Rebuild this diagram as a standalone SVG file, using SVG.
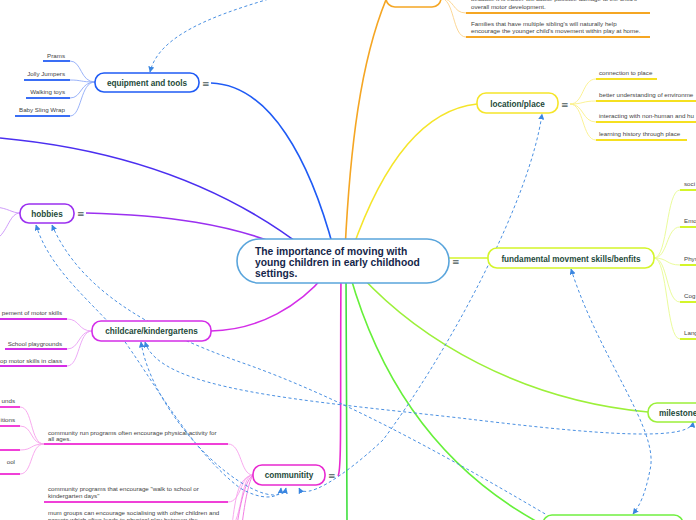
<svg xmlns="http://www.w3.org/2000/svg" width="696" height="520" viewBox="0 0 696 520">
<defs>
<marker id="ah" viewBox="0 0 10 10" refX="9" refY="5" markerWidth="6" markerHeight="6" markerUnits="userSpaceOnUse" orient="auto-start-reverse">
<path d="M0,0 L10,5 L0,10 z" fill="#3a86e0"/>
</marker>
<style>
.nd{fill:#fff;stroke-width:1.6}
.nt{font-family:"Liberation Sans",Arial,sans-serif;font-weight:bold;font-size:8.2px;fill:#1e4a3a;text-anchor:middle}
.ct{font-family:"Liberation Sans",Arial,sans-serif;font-size:6.2px;fill:#444}
.ce{text-anchor:end}
.ic{font-family:"DejaVu Sans",sans-serif;font-size:9px;fill:#4a5a5a}
.br{fill:none;stroke-width:1.6}
.sb{fill:none;stroke-width:0.9}
.ul{stroke-width:2}
.dl{fill:none;stroke:#4a90e2;stroke-width:1;stroke-dasharray:3 2.5}
</style>
</defs>
<rect width="696" height="520" fill="#fff"/>
<g id="connectors">
<path class="br" stroke="#f5a623" d="M345,250 C350,150 360,60 388,-5"/>
<path class="br" stroke="#1f5bf5" d="M211,83 C270,85 310,160 334,250"/>
<path class="br" stroke="#4b2ff0" d="M0,138 C130,150 230,190 307,250"/>
<path class="br" stroke="#9b30f0" d="M86,213 C170,215 230,225 280,245"/>
<path class="br" stroke="#d42ee8" d="M211,331 C260,330 300,305 325,275"/>
<path class="br" stroke="#e828d0" d="M338,476 C342,470 340,400 341,275"/>
<path class="br" stroke="#f5e52a" d="M352,250 C380,170 420,110 477,104"/>
<path class="br" stroke="#d4f52a" d="M440,258 L488,258"/>
<path class="br" stroke="#9cf03a" d="M360,275 C420,340 520,400 648,412"/>
<path class="br" stroke="#66f03a" d="M350,275 C380,380 440,470 543,525"/>
<path class="br" stroke="#3ee03e" d="M346,275 C347,350 346,450 347,522"/>
<!-- orange children -->
<path class="sb" stroke="#fcd38a" d="M440,-2 C455,-2 452,13 466,13"/>
<path class="sb" stroke="#fcd38a" d="M440,-2 C455,-2 452,37 466,37"/>
<!-- equipment children -->
<path class="sb" stroke="#8eaaf8" d="M95,82 C80,82 82,61 70,61"/>
<path class="sb" stroke="#8eaaf8" d="M95,82 C80,82 82,80 70,80"/>
<path class="sb" stroke="#8eaaf8" d="M95,82 C80,82 82,98 70,98"/>
<path class="sb" stroke="#8eaaf8" d="M95,82 C80,82 82,116 70,116"/>
<!-- hobbies children -->
<path class="sb" stroke="#c890f8" d="M20,213 C12,213 8,208 -5,207"/>
<path class="sb" stroke="#c890f8" d="M20,213 C10,213 8,230 -2,238"/>
<!-- childcare children -->
<path class="sb" stroke="#eaa0f5" d="M92,331 C78,331 80,319 67,319"/>
<path class="sb" stroke="#eaa0f5" d="M92,331 C78,331 80,349 67,349"/>
<path class="sb" stroke="#eaa0f5" d="M92,331 C78,331 80,366 67,366"/>
<!-- community children -->
<path class="sb" stroke="#f7a0ec" d="M253,475 C240,475 242,444 228,444"/>
<path class="sb" stroke="#f7a0ec" d="M253,475 C240,475 242,502 228,502"/>
<path class="sb" stroke="#f7a0ec" d="M253,475 C240,475 242,528 228,528"/>
<path class="sb" stroke="#f070e0" d="M253,475 C246,480 241,500 237,525"/>
<path class="sb" stroke="#f070e0" d="M253,475 C249,481 245,500 242,525"/>
<path class="sb" stroke="#f7a0ec" d="M253,475 C238,478 236,495 232,525"/>
<path class="sb" stroke="#f7a0ec" d="M44,444 C30,444 33,407 20,407"/>
<path class="sb" stroke="#f7a0ec" d="M44,444 C30,444 33,426 20,426"/>
<path class="sb" stroke="#f7a0ec" d="M44,444 C30,444 33,450 20,450"/>
<path class="sb" stroke="#f7a0ec" d="M44,444 C30,444 33,474 20,474"/>
<!-- location children -->
<path class="sb" stroke="#faf08a" d="M570,104 C584,104 582,79 596,79"/>
<path class="sb" stroke="#faf08a" d="M570,104 C584,104 582,101 596,101"/>
<path class="sb" stroke="#faf08a" d="M570,104 C584,104 582,122 596,122"/>
<path class="sb" stroke="#faf08a" d="M570,104 C584,104 582,140 596,140"/>
<!-- fundamental children -->
<path class="sb" stroke="#e8fa90" d="M654,258 C668,258 666,190 680,190"/>
<path class="sb" stroke="#e8fa90" d="M654,258 C668,258 666,227 680,227"/>
<path class="sb" stroke="#e8fa90" d="M654,258 C668,258 666,265 680,265"/>
<path class="sb" stroke="#e8fa90" d="M654,258 C668,258 666,302 680,302"/>
<path class="sb" stroke="#e8fa90" d="M654,258 C668,258 666,339 680,339"/>
<!-- dashed relationships -->
<path class="dl" marker-start="url(#ah)" marker-end="url(#ah)" d="M36,225 C50,270 90,300 120,335 C150,375 190,450 240,488 C260,500 280,500 281,488"/>
<path class="dl" marker-start="url(#ah)" d="M52,225 C80,290 150,330 240,362 C350,400 470,470 547,515"/>
<path class="dl" marker-start="url(#ah)" marker-end="url(#ah)" d="M141,342 C150,400 210,470 255,490 C270,497 284,497 286,488"/>
<path class="dl" marker-start="url(#ah)" marker-end="url(#ah)" d="M145,342 C160,390 300,400 460,418 C560,430 690,445 693,422"/>
<path class="dl" marker-start="url(#ah)" marker-end="url(#ah)" d="M299,488 C305,500 340,480 383,440 C450,350 530,200 542,114"/>
<path class="dl" marker-end="url(#ah)" d="M300,-10 C230,10 160,30 150,72"/>
<path class="dl" marker-start="url(#ah)" marker-end="url(#ah)" d="M571,269 C600,360 660,430 650,470 C645,495 640,505 633,514"/>
</g>
<g id="central">
<rect class="nd" x="237" y="239" width="212" height="44" rx="22" stroke="#5aa5dc" stroke-width="1.2"/>
<text font-family="Liberation Sans,Arial,sans-serif" font-weight="bold" font-size="10.3" fill="#15264a"><tspan x="255" y="254.5">The importance of moving with</tspan><tspan x="255" y="265.5">young children in early childhood</tspan><tspan x="255" y="276.5">settings.</tspan></text>
<text class="ic" x="452" y="265">≡</text>
</g>
<g id="orange-node">
<rect class="nd" x="386" y="-14" width="55" height="21" rx="9" stroke="#f5a623"/>
<line class="ul" x1="466" y1="13" x2="650" y2="13" stroke="#f5a623"/>
<line class="ul" x1="466" y1="37" x2="650" y2="37" stroke="#f5a623"/>
<text class="ct"><tspan x="471" y="1">because it is easier will cause possible damage to the child's</tspan><tspan x="471" y="8.5">overall motor development.</tspan></text>
<text class="ct"><tspan x="471" y="25.5">Families that have multiple sibling's will naturally help</tspan><tspan x="471" y="33">encourage the younger child's movement within play at home.</tspan></text>
</g>
<g id="equipment">
<rect class="nd" x="95" y="73" width="104" height="19" rx="9" stroke="#1f5bf5"/>
<text class="nt" x="147" y="85.5">equipment and tools</text>
<text class="ic" x="202" y="87">≡</text>
<line class="ul" x1="43" y1="61" x2="70" y2="61" stroke="#3a6ef5"/>
<line class="ul" x1="24" y1="80" x2="70" y2="80" stroke="#3a6ef5"/>
<line class="ul" x1="26" y1="98" x2="70" y2="98" stroke="#3a6ef5"/>
<line class="ul" x1="15" y1="116" x2="70" y2="116" stroke="#3a6ef5"/>
<text class="ct ce" x="65" y="58">Prams</text>
<text class="ct ce" x="65" y="76">Jolly Jumpers</text>
<text class="ct ce" x="65" y="94">Walking toys</text>
<text class="ct ce" x="65" y="112">Baby Sling Wrap</text>
</g>
<g id="hobbies">
<rect class="nd" x="20" y="204" width="54" height="19" rx="9" stroke="#9b30f0"/>
<text class="nt" x="47" y="216.5">hobbies</text>
<text class="ic" x="77" y="217">≡</text>
</g>
<g id="childcare">
<rect class="nd" x="92" y="321" width="119" height="20" rx="9" stroke="#d42ee8"/>
<text class="nt" x="151.5" y="334">childcare/kindergartens</text>
<line class="ul" x1="-2" y1="319" x2="67" y2="319" stroke="#d42ee8"/>
<line class="ul" x1="5" y1="349" x2="67" y2="349" stroke="#d42ee8"/>
<line class="ul" x1="-2" y1="366" x2="67" y2="366" stroke="#d42ee8"/>
<text class="ct ce" x="62" y="315">pement of motor skills</text>
<text class="ct ce" x="62" y="345.5">School playgrounds</text>
<text class="ct ce" x="62" y="363">op motor skills in class</text>
</g>
<g id="community">
<rect class="nd" x="253" y="465" width="72" height="20" rx="9" stroke="#e828d0"/>
<text class="nt" x="289" y="478">communitity</text>
<text class="ic" x="328" y="479">≡</text>
<line class="ul" x1="44" y1="444" x2="228" y2="444" stroke="#f040d8"/>
<line class="ul" x1="44" y1="502" x2="228" y2="502" stroke="#f040d8"/>
<text class="ct"><tspan x="48" y="434.5">community run programs often encourage physical activity for</tspan><tspan x="48" y="441">all ages.</tspan></text>
<text class="ct"><tspan x="48" y="491">community programs that encourage "walk to school or</tspan><tspan x="48" y="498">kindergarten days"</tspan></text>
<text class="ct"><tspan x="48" y="515">mum groups can encourage socialising with other children and</tspan><tspan x="48" y="522">parents which often leads to physical play between the</tspan></text>
<line class="ul" x1="-2" y1="407" x2="20" y2="407" stroke="#f040d8"/>
<line class="ul" x1="-2" y1="426" x2="20" y2="426" stroke="#f040d8"/>
<line class="ul" x1="-2" y1="450" x2="20" y2="450" stroke="#f040d8"/>
<line class="ul" x1="-2" y1="474" x2="20" y2="474" stroke="#f040d8"/>
<text class="ct ce" x="15" y="403">unds</text>
<text class="ct ce" x="15" y="422">itions</text>
<text class="ct ce" x="15" y="464">ool</text>
</g>
<g id="location">
<rect class="nd" x="477" y="93" width="81" height="20" rx="9" stroke="#f5e52a"/>
<text class="nt" x="517.5" y="106.5">location/place</text>
<text class="ic" x="561" y="108">≡</text>
<line class="ul" x1="596" y1="79" x2="657" y2="79" stroke="#f5e020"/>
<line class="ul" x1="596" y1="101" x2="700" y2="101" stroke="#f5e020"/>
<line class="ul" x1="596" y1="122" x2="700" y2="122" stroke="#f5e020"/>
<line class="ul" x1="596" y1="140" x2="687" y2="140" stroke="#f5e020"/>
<text class="ct" x="599" y="75">connection to place</text>
<text class="ct" x="599" y="97">better understanding of environme</text>
<text class="ct" x="599" y="118">interacting with non-human and hu</text>
<text class="ct" x="599" y="136">learning history through place</text>
</g>
<g id="fundamental">
<rect class="nd" x="488" y="248" width="166" height="20" rx="9" stroke="#d4f52a"/>
<text class="nt" x="571" y="261.5">fundamental movment skills/benfits</text>
<line class="ul" x1="680" y1="190" x2="700" y2="190" stroke="#d4f52a"/>
<line class="ul" x1="680" y1="227" x2="700" y2="227" stroke="#d4f52a"/>
<line class="ul" x1="680" y1="265" x2="700" y2="265" stroke="#d4f52a"/>
<line class="ul" x1="680" y1="302" x2="700" y2="302" stroke="#d4f52a"/>
<line class="ul" x1="680" y1="339" x2="700" y2="339" stroke="#d4f52a"/>
<text class="ct" x="684" y="186">soci</text>
<text class="ct" x="684" y="223">Emo</text>
<text class="ct" x="684" y="261">Phys</text>
<text class="ct" x="684" y="298">Cog</text>
<text class="ct" x="684" y="335">Lang</text>
</g>
<g id="milestones">
<rect class="nd" x="648" y="403" width="60" height="19" rx="9" stroke="#9cf03a"/>
<text class="nt" x="659" y="416" style="text-anchor:start">milestone</text>
</g>
<g id="bottom-green">
<rect class="nd" x="543" y="515" width="140" height="20" rx="9" stroke="#70f040"/>
</g>
</svg>
